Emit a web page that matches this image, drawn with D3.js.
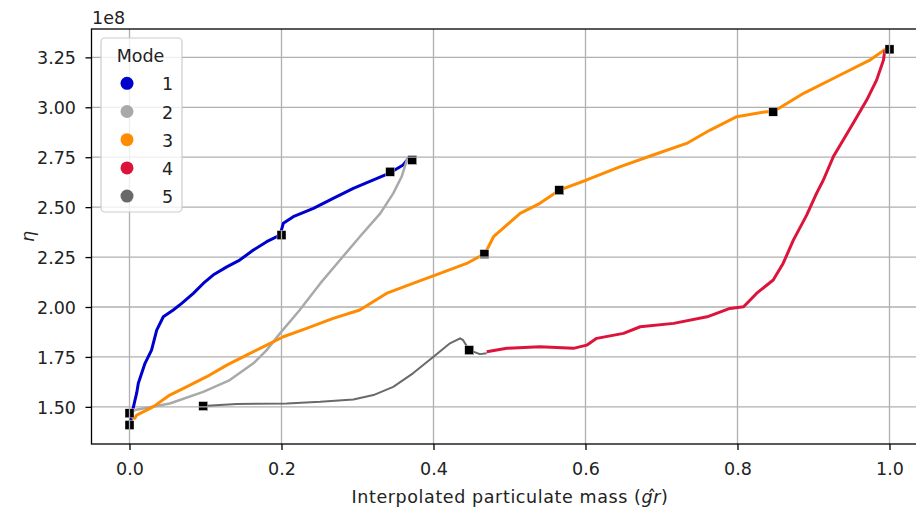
<!DOCTYPE html>
<html>
<head>
<meta charset="utf-8">
<script src="https://cdn.jsdelivr.net/npm/d3@7"></script>
<style>
  body { margin: 0; background: #fff; }
  text { font-family: "DejaVu Sans", sans-serif; }
</style>
</head>
<body>
<div id="chart"></div>
<script>
// Values. x = interpolated particulate mass, y = eta / 1e8
var mode1 = [[0.002,1.43],[0.004,1.48],[0.007,1.53],[0.0095,1.57],[0.0116,1.618],[0.0204,1.718],
  [0.029,1.784],[0.0358,1.884],[0.0445,1.951],[0.0576,1.985],[0.0687,2.018],[0.084,2.068],
  [0.097,2.118],[0.110,2.160],[0.128,2.201],[0.145,2.235],[0.163,2.285],[0.1805,2.327],
  [0.198,2.360],[0.2024,2.419],[0.2155,2.452],[0.242,2.494],[0.268,2.544],[0.2945,2.594],
  [0.321,2.636],[0.343,2.672],[0.360,2.711],[0.369,2.752]];
var mode2 = [[0.003,1.47],[0.007,1.484],[0.053,1.517],[0.097,1.575],[0.132,1.634],[0.163,1.718],
  [0.1805,1.784],[0.198,1.868],[0.224,1.985],[0.251,2.118],[0.277,2.235],[0.303,2.352],
  [0.330,2.469],[0.347,2.569],[0.358,2.652],[0.365,2.736],[0.372,2.75]];
var mode3 = [[0.003,1.445],[0.007,1.443],[0.0095,1.459],[0.031,1.50],[0.053,1.559],[0.075,1.600],
  [0.1016,1.651],[0.128,1.709],[0.154,1.759],[0.1805,1.809],[0.2024,1.851],[0.233,1.893],
  [0.268,1.943],[0.303,1.985],[0.338,2.068],[0.373,2.118],[0.4086,2.168],[0.4437,2.218],
  [0.4678,2.268],[0.479,2.352],[0.514,2.469],[0.540,2.519],[0.5655,2.585],[0.6016,2.636],
  [0.645,2.702],[0.689,2.761],[0.733,2.819],[0.764,2.886],[0.799,2.953],[0.838,2.978],
  [0.847,2.978],[0.887,3.07],[0.9305,3.153],[0.974,3.236],[0.996,3.295]];
var mode4 = [[0.470,1.776],[0.4964,1.793],[0.540,1.801],[0.584,1.793],[0.6016,1.809],[0.6147,1.843],
  [0.650,1.868],[0.672,1.901],[0.716,1.918],[0.760,1.951],[0.790,1.993],[0.808,2.001],
  [0.825,2.068],[0.847,2.135],[0.860,2.218],[0.8735,2.335],[0.891,2.46],[0.904,2.569],
  [0.913,2.636],[0.926,2.752],[0.952,2.919],[0.970,3.036],[0.983,3.136],[0.992,3.236],[0.994,3.287]];
var mode5 = [[0.097,1.504],[0.141,1.514],[0.207,1.517],[0.251,1.525],[0.2945,1.537],[0.321,1.559],
  [0.347,1.600],[0.373,1.668],[0.400,1.751],[0.4217,1.818],[0.435,1.843],[0.439,1.834],
  [0.447,1.784],[0.461,1.764],[0.470,1.768]];

// black square markers
var markerPoints = [[0,1.468],[0,1.409],[0.097,1.504],[0.2,2.36],[0.343,2.677],[0.372,2.736],
  [0.447,1.784],[0.467,2.265],[0.5655,2.585],[0.847,2.978],[1.0,3.29]];

var modes = ['1', '2', '3', '4', '5'];
var xTicks = [0, 0.2, 0.4, 0.6, 0.8, 1.0];
var yTicks = [1.50, 1.75, 2.00, 2.25, 2.50, 2.75, 3.00, 3.25];

var palette = { '1': '#0000cd', '2': '#a9a9a9', '3': '#ff8c00', '4': '#dc143c', '5': '#696969' };
var widths = { '1': 3, '2': 2.5, '3': 3, '4': 3, '5': 2 };

var series = [mode1, mode2, mode3, mode4, mode5].map(function(v, i) {
  return { mode: modes[i], values: v };
});

var W = 916, H = 513;
var fs = '17.5px';
var margins = { left: 91.5, right: 927.5, top: 29, bottom: 444 };

var svg = d3.select('#chart').append('svg')
  .attr('width', W).attr('height', H);

var x = d3.scaleLinear().domain([-0.05, 1.05]).range([margins.left, margins.right]);
var y = d3.scaleLinear().domain([1.314, 3.392]).range([margins.bottom, margins.top]);

// grid lines, reused on top of the markers
function drawGrid(g) {
  g.selectAll('line.gx').data(xTicks).enter().append('line')
    .attr('x1', d => x(d)).attr('x2', d => x(d))
    .attr('y1', margins.top).attr('y2', margins.bottom);
  g.selectAll('line.gy').data(yTicks).enter().append('line')
    .attr('x1', margins.left).attr('x2', margins.right)
    .attr('y1', d => y(d)).attr('y2', d => y(d));
  g.selectAll('line').attr('stroke', '#b0b0b0').attr('stroke-width', 1.3);
}
drawGrid(svg.append('g').attr('class', 'grid'));

// lines
var line = d3.line().x(d => x(d[0])).y(d => y(d[1]));
svg.append('g').selectAll('path').data(series).enter().append('path')
  .attr('d', d => line(d.values))
  .attr('fill', 'none')
  .attr('stroke', d => palette[d.mode])
  .attr('stroke-width', d => widths[d.mode])
  .attr('stroke-linejoin', 'round');

// markers
var ms = 9;
svg.append('g').selectAll('rect').data(markerPoints).enter().append('rect')
  .attr('x', d => x(d[0]) - ms / 2).attr('y', d => y(d[1]) - ms / 2)
  .attr('width', ms).attr('height', ms)
  .attr('fill', '#000').attr('stroke', '#fff').attr('stroke-width', 0.4);

// grid shows through the markers
var clip = svg.append('clipPath').attr('id', 'markerClip');
clip.selectAll('rect').data(markerPoints).enter().append('rect')
  .attr('x', d => x(d[0]) - ms / 2).attr('y', d => y(d[1]) - ms / 2)
  .attr('width', ms).attr('height', ms);
drawGrid(svg.append('g').attr('clip-path', 'url(#markerClip)'));

// axes
var xAxis = d3.axisBottom(x).tickValues(xTicks).tickFormat(d3.format('.1f')).tickSize(6);
var yAxis = d3.axisLeft(y).tickValues(yTicks).tickFormat(d3.format('.2f')).tickSize(6);

var gx = svg.append('g').attr('transform', 'translate(0,' + margins.bottom + ')').call(xAxis);
var gy = svg.append('g').attr('transform', 'translate(' + margins.left + ',0)').call(yAxis);
[gx, gy].forEach(function(g) {
  g.select('.domain').remove();
  g.selectAll('.tick line').attr('stroke', '#000').attr('stroke-width', 1.3);
  g.selectAll('.tick text').attr('fill', '#222').style('font-size', fs)
    .style('font-family', '"DejaVu Sans", sans-serif');
});
gx.selectAll('.tick text').attr('y', 31).attr('dy', 0);
gy.selectAll('.tick text').attr('x', -15.5).attr('dy', '0.36em');

// spines
svg.append('rect')
  .attr('x', margins.left).attr('y', margins.top)
  .attr('width', margins.right - margins.left).attr('height', margins.bottom - margins.top)
  .attr('fill', 'none').attr('stroke', '#000').attr('stroke-width', 1.3);

// offset text and labels
svg.append('text').attr('x', 92).attr('y', 24).style('font-size', fs).attr('fill', '#222').text('1e8');

svg.append('text')
  .attr('transform', 'translate(34,' + ((margins.top + margins.bottom) / 2) + ') rotate(-90)')
  .attr('text-anchor', 'middle').style('font-size', fs).style('font-style', 'italic')
  .attr('fill', '#222').text('η');

// x label: hat over the italic "gr", kept inside one text element
var xl = svg.append('text').attr('x', 510).attr('y', 503).attr('text-anchor', 'middle')
  .style('font-size', fs).style('letter-spacing', '0.6px').attr('fill', '#222');
xl.append('tspan').text('Interpolated particulate mass (');
var gr = xl.append('tspan').style('font-style', 'italic').text('gr');
var hat = xl.append('tspan').text('ˆ');
var close = xl.append('tspan').text(')');
var grW = gr.node().getComputedTextLength(), hatW = hat.node().getComputedTextLength();
hat.attr('dx', -(grW + hatW) / 2 + 1);
close.attr('dx', (grW - hatW) / 2 - 1);

// legend
var legend = svg.append('g');
legend.append('rect').attr('x', 101).attr('y', 38).attr('width', 81).attr('height', 174)
  .attr('rx', 4).attr('fill', '#fff').attr('fill-opacity', 0.8)
  .attr('stroke', '#cccccc').attr('stroke-width', 1.2);
legend.append('text').attr('x', 140.5).attr('y', 61.5).attr('text-anchor', 'middle')
  .style('font-size', fs).attr('fill', '#222').text('Mode');
var items = legend.selectAll('g.item').data(modes).enter().append('g')
  .attr('transform', (d, i) => 'translate(0,' + (83.3 + i * 28.2) + ')');
items.append('circle').attr('cx', 127).attr('cy', 0).attr('r', 6.5).attr('fill', d => palette[d]);
items.append('text').attr('x', 162).attr('y', 7).style('font-size', fs).attr('fill', '#222')
  .text(d => d);
</script>
</body>
</html>
